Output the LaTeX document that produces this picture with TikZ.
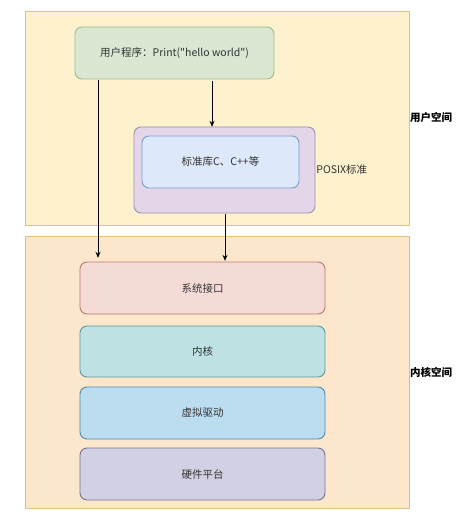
\documentclass[tikz,border=0pt]{standalone}
\usepackage{fontspec}
\newfontfamily\cjk{Noto Sans CJK SC}
\usetikzlibrary{arrows.meta}
\definecolor{ubgF}{HTML}{FDF2CD}\definecolor{ubgD}{HTML}{DCC57E}
\definecolor{kbgF}{HTML}{FCE7CD}\definecolor{kbgD}{HTML}{DFC07E}
\definecolor{upF}{HTML}{D9E7D3}\definecolor{upD}{HTML}{9DBF87}
\definecolor{poF}{HTML}{E2D6E8}\definecolor{poD}{HTML}{A48BB3}
\definecolor{inF}{HTML}{DDE8FA}\definecolor{inD}{HTML}{7F9CC9}
\definecolor{sysF}{HTML}{F5DBD6}\definecolor{sysD}{HTML}{B8786E}
\definecolor{keF}{HTML}{BEE2E4}\definecolor{keD}{HTML}{5B9A9C}
\definecolor{vdF}{HTML}{BCDCEF}\definecolor{vdD}{HTML}{4F8BAB}
\definecolor{hwF}{HTML}{D2D0E3}\definecolor{hwD}{HTML}{77738F}
\definecolor{txt}{HTML}{333333}
\begin{document}
\begin{tikzpicture}[x=1pt,y=-1pt,
  every node/.style={font=\cjk\fontsize{10.5}{12}\selectfont},
  area/.style={draw=#1D,fill=#1F,line width=0.9pt},
  rbox/.style={draw=#1D,fill=#1F,line width=0.9pt,rounded corners=7pt},
  lbl/.style={anchor=west,inner sep=1pt},
  arr/.style={-{Stealth[length=6pt,width=5pt]},line width=0.8pt,black}]
\useasboundingbox (0,0) rectangle (474,521);
\fill[white] (0,0) rectangle (474,521);
\draw[area=ubg] (25,11) rectangle (409,225);
\draw[area=kbg] (25,236) rectangle (409,508);
\coordinate (ubgE) at (409,118);
\coordinate (kbgE) at (409,372);
\node[lbl,font=\cjk\fontsize{10.5}{12}\selectfont\bfseries] (ulbl) at (ubgE) {用户空间};
\node[lbl,font=\cjk\fontsize{10.5}{12}\selectfont\bfseries] (klbl) at (kbgE) {内核空间};
% user program
\path[rbox=up] (75,27) rectangle (274,79);
\node[text=txt,minimum width=199pt,minimum height=52pt,inner sep=0] (up) at (174.5,53) {用户程序：Print("hello world")};
% POSIX
\path[rbox=po] (134,127) rectangle (315,213);
\node[minimum width=181pt,minimum height=86pt,inner sep=0] (po) at (224.5,170) {};
\path[rbox=in] (142,136) rectangle (299,188);
\node[text=txt,inner sep=0] (in) at (220.5,162) {标准库C、C++等};
\node[lbl,text=txt] (polbl) at (po.east) {POSIX标准};
% kernel layers
\path[rbox=sys] (80,262) rectangle (325,314);
\node[text=txt,minimum width=245pt,minimum height=52pt,inner sep=0] (sys) at (202.5,288) {系统接口};
\path[rbox=ke] (80,326) rectangle (325,377);
\node[text=txt] (ke) at (202.5,351.5) {内核};
\path[rbox=vd] (80,387) rectangle (325,439);
\node[text=txt] (vd) at (202.5,413) {虚拟驱动};
\path[rbox=hw] (80,448) rectangle (325,500);
\node[text=txt] (hw) at (202.5,474) {硬件平台};
% arrows
\coordinate (xl) at (98,0);
\coordinate (xm) at (212,0);
\coordinate (xr) at (225,0);
\draw[arr,shorten <=1pt,shorten >=4pt] (up.south -| xl) -- (sys.north -| xl);
\draw[arr,shorten <=2pt] (up.south -| xm) -- (po.north -| xm);
\draw[arr,shorten <=1pt,shorten >=1pt] (po.south -| xr) -- (sys.north -| xr);
\end{tikzpicture}
\end{document}
